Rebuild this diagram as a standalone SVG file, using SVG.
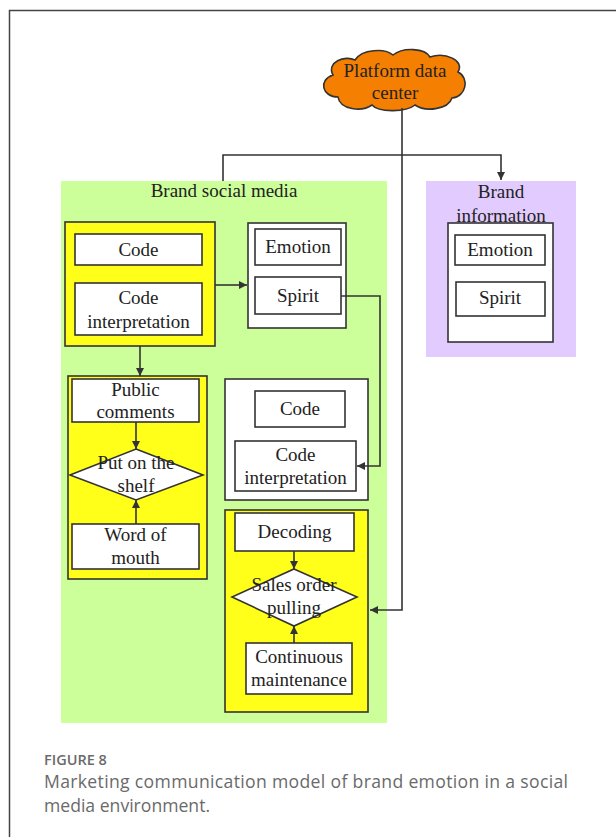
<svg xmlns="http://www.w3.org/2000/svg" width="616" height="837" viewBox="0 0 616 837">
<defs>
<marker id="ah" viewBox="0 0 10 10" refX="10" refY="5" markerWidth="8" markerHeight="8" markerUnits="userSpaceOnUse" orient="auto">
<path d="M0,0 L10,5 L0,10 Z" fill="#333"/>
</marker>
<style>
.t{font-family:"Liberation Serif","Times New Roman",serif;font-size:19px;fill:#222;text-anchor:middle}
.box{fill:#fff;stroke:#333;stroke-width:1.6}
.yel{fill:#ffff1a;stroke:#333;stroke-width:1.6}
.ln{fill:none;stroke:#333;stroke-width:1.6}
.cap{font-family:"Open Sans","Liberation Sans",sans-serif;fill:#6a6a6a}
</style>
</defs>
<rect width="616" height="837" fill="#fff"/>
<path d="M9.5,837 V10.5 H616" fill="none" stroke="#444" stroke-width="1.5"/>

<g id="brand-social-media">
<rect x="61" y="181" width="326" height="542" fill="#ccff99"/>
<text class="t" x="224" y="197">Brand social media</text>
</g>

<g id="brand-information">
<rect x="426" y="181" width="150" height="176" fill="#e2ccff"/>
<text class="t" x="501" y="198">Brand</text>
<text class="t" x="501" y="222">information</text>
<rect class="box" x="448" y="223" width="105" height="119"/>
</g>
<g id="bi-emotion"><rect class="box" x="455" y="235" width="90" height="30"/><text class="t" x="500" y="256">Emotion</text></g>
<g id="bi-spirit"><rect class="box" x="456" y="282" width="89" height="34"/><text class="t" x="500" y="304">Spirit</text></g>

<g id="platform-data-center">
<path d="M338,97 C322,97 318,80 333,75 C326,62 345,55 355,60 C362,49 385,48 393,55 C403,47 425,48 430,57 C445,52 465,60 458,72 C470,78 466,97 452,98 C448,110 425,112 415,105 C405,113 378,112 372,105 C362,112 340,110 338,97 Z" fill="#f57f00" stroke="#333" stroke-width="1.6"/>
<text class="t" x="395" y="77">Platform data</text>
<text class="t" x="395" y="99">center</text>
</g>

<g id="coding-group"><rect class="yel" x="65" y="222" width="150" height="124"/></g>
<g id="code-1"><rect class="box" x="75" y="234" width="127" height="31"/><text class="t" x="138.5" y="256">Code</text></g>
<g id="code-interpretation-1"><rect class="box" x="75" y="283" width="127" height="52"/><text class="t" x="138.5" y="304">Code</text><text class="t" x="138.5" y="328">interpretation</text></g>

<g id="emotion-spirit-group"><rect class="box" x="248" y="223" width="98" height="105"/></g>
<g id="emotion-1"><rect class="box" x="255" y="229" width="86" height="36"/><text class="t" x="298" y="253">Emotion</text></g>
<g id="spirit-1"><rect class="box" x="255" y="277" width="86" height="37"/><text class="t" x="298" y="302">Spirit</text></g>

<g id="shelf-group"><rect class="yel" x="68" y="376" width="139" height="203"/></g>
<g id="public-comments"><rect class="box" x="72" y="379" width="127" height="43"/><text class="t" x="135.5" y="396">Public</text><text class="t" x="135.5" y="418">comments</text></g>
<g id="put-on-the-shelf"><path class="box" d="M136,449 L203,475 L136,500 L70,475 Z"/><text class="t" x="136" y="469">Put on the</text><text class="t" x="136" y="492">shelf</text></g>
<g id="word-of-mouth"><rect class="box" x="72" y="524" width="127" height="45"/><text class="t" x="135.5" y="541">Word of</text><text class="t" x="135.5" y="564">mouth</text></g>

<g id="code-group-2"><rect class="box" x="225" y="379" width="143" height="121"/></g>
<g id="code-2"><rect class="box" x="255" y="391" width="90" height="36"/><text class="t" x="300" y="415">Code</text></g>
<g id="code-interpretation-2"><rect class="box" x="235" y="441" width="121" height="50"/><text class="t" x="295.5" y="461">Code</text><text class="t" x="295.5" y="484">interpretation</text></g>

<g id="sales-group"><rect class="yel" x="225" y="510" width="143" height="202"/></g>
<g id="decoding"><rect class="box" x="235" y="513" width="119" height="38"/><text class="t" x="294.5" y="538">Decoding</text></g>
<g id="sales-order-pulling"><path class="box" d="M294,569 L357,597 L294,626 L232,597 Z"/><text class="t" x="294" y="591">Sales order</text><text class="t" x="294" y="614">pulling</text></g>
<g id="continuous-maintenance"><rect class="box" x="246" y="643" width="106" height="51"/><text class="t" x="299" y="663">Continuous</text><text class="t" x="299" y="686">maintenance</text></g>

<g id="connectors">
<path class="ln" d="M402,108 V610 H370" marker-end="url(#ah)"/>
<path class="ln" d="M223,181 V155 H501 V180" marker-end="url(#ah)"/>
<path class="ln" d="M215,285 H247" marker-end="url(#ah)"/>
<path class="ln" d="M341,296 H380 V466 H357" marker-end="url(#ah)"/>
<path class="ln" d="M140,346 V376" marker-end="url(#ah)"/>
<path class="ln" d="M136,422 V449" marker-end="url(#ah)"/>
<path class="ln" d="M136,524 V500" marker-end="url(#ah)"/>
<path class="ln" d="M294,551 V569" marker-end="url(#ah)"/>
<path class="ln" d="M294,643 V626" marker-end="url(#ah)"/>
</g>

<g id="caption">
<text class="cap" x="44" y="765" font-size="14.5" font-weight="600" fill="#5a5a5a">FIGURE 8</text>
<text class="cap" x="44" y="788" font-size="17.6" textLength="524" lengthAdjust="spacing">Marketing communication model of brand emotion in a social</text>
<text class="cap" x="44" y="812" font-size="17.6">media environment.</text>
</g>
</svg>
